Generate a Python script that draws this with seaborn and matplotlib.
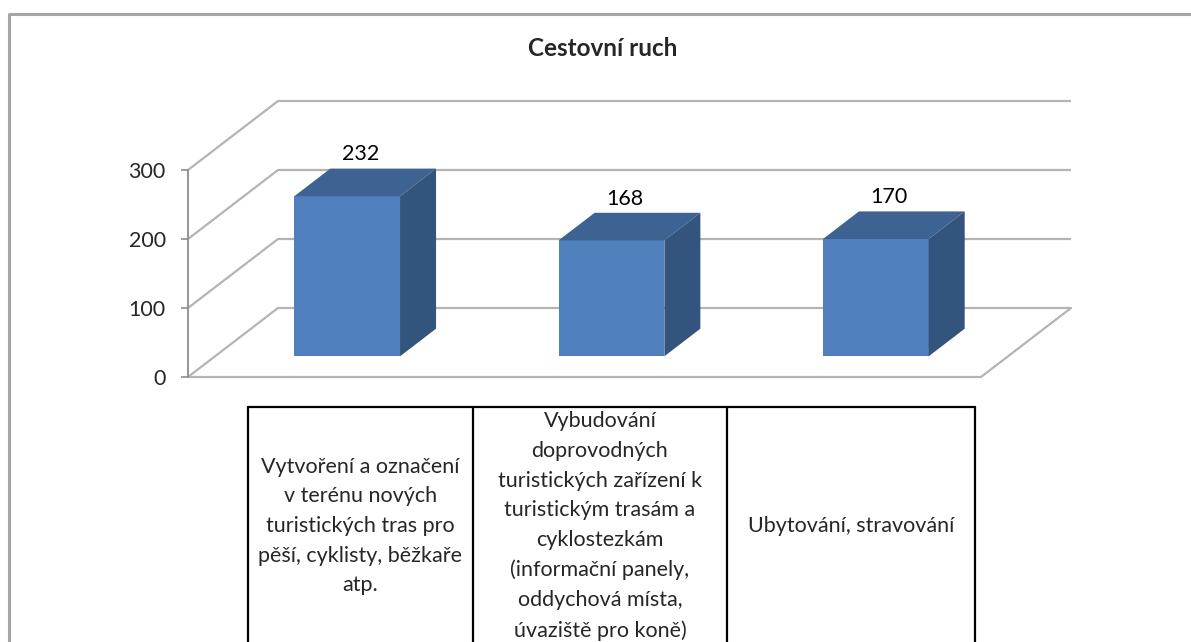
import numpy as np
import pandas as pd
import seaborn as sns
import matplotlib.pyplot as plt
from matplotlib.patches import Polygon

# Data
title = 'Cestovní ruch'
categories = [
    'Vytvoření a označení\nv terénu nových\nturistických tras pro\npěší, cyklisty, běžkaře\natp.',
    'Vybudování\ndoprovodných\nturistických zařízení k\nturistickým trasám a\ncyklostezkám\n(informační panely,\noddychová místa,\núvaziště pro koně)',
    'Ubytování, stravování',
]
values = [232, 168, 170]
y_ticks = [0, 100, 200, 300]

# Style
sns.set_style('white')
plt.rcParams['font.family'] = ['Lato', 'DejaVu Sans']
FONT = 15.5
FRONT = '#4F7FBC'
TOP = '#3D6392'
SIDE = '#32547D'
GRID = '#B4B4B4'

W, H = 1191, 642
fig = plt.figure(figsize=(W / 100, H / 100), dpi=100)

# overlay in pixel coordinates for frame, title and table
ov = fig.add_axes([0, 0, 1, 1])
ov.set_xlim(0, W)
ov.set_ylim(H, 0)
ov.axis('off')

# front plane of the 3d plot
x0, x1, yb, yt = 188, 981, 377, 170
ax = fig.add_axes([x0 / W, 1 - yb / H, (x1 - x0) / W, (yb - yt) / H])
ax.set_xlim(-0.5, 2.5)
ax.set_ylim(0, 300)

# depth of the floor in data units
DX = 90 / ((x1 - x0) / 3)
DY = 69 / ((yb - yt) / 300)
f0, f1 = 0.3, 0.7

df = pd.DataFrame({'cat': categories, 'val': values})
sns.barplot(data=df, x='cat', y='val', ax=ax, color=FRONT, saturation=1,
            width=0.4, linewidth=0, zorder=5)

for p, v in zip(ax.patches, values):
    bx, bw = p.get_x(), p.get_width()
    ox, oy = f0 * DX, f0 * DY
    ddx, ddy = (f1 - f0) * DX, (f1 - f0) * DY
    p.set_xy((bx + ox, oy))
    # top face
    ax.add_patch(Polygon([(bx + ox, v + oy), (bx + bw + ox, v + oy),
                          (bx + bw + ox + ddx, v + oy + ddy), (bx + ox + ddx, v + oy + ddy)],
                         closed=True, fc=TOP, ec='none', zorder=5, clip_on=False))
    # side face
    ax.add_patch(Polygon([(bx + bw + ox, oy), (bx + bw + ox + ddx, oy + ddy),
                          (bx + bw + ox + ddx, v + oy + ddy), (bx + bw + ox, v + oy)],
                         closed=True, fc=SIDE, ec='none', zorder=5, clip_on=False))
    ax.text(bx + bw / 2 + ox + 0.05, v + f1 * DY + 6, str(v), ha='center', va='bottom',
            fontsize=FONT, color='black', zorder=6, clip_on=False)

# walls and floor
for v in y_ticks:
    ax.plot([-0.5, -0.5 + DX, 2.5 + DX], [v, v + DY, v + DY], color=GRID, lw=1.6,
            zorder=1, clip_on=False, solid_capstyle='butt')
ax.plot([-0.5, 2.5, 2.5 + DX], [0, 0, DY], color=GRID, lw=1.6, zorder=1, clip_on=False)

for s in ['top', 'right', 'bottom']:
    ax.spines[s].set_visible(False)
ax.spines['left'].set_color('#8C8C8C')
ax.spines['left'].set_linewidth(1.3)
ax.set_yticks(y_ticks)
ax.set_yticklabels([str(t) for t in y_ticks], fontsize=FONT)
ax.tick_params(axis='y', length=5, width=1.2, color='#8C8C8C', pad=11, left=True)
ax.set_xticks([])
ax.set_xlabel('')
ax.set_ylabel('')
ax.patch.set_alpha(0)

# outer chart frame
ov.plot([9, 9, W], [H, 14, 14], color='#A6A6A6', lw=2.2)

# title
ov.text(603, 48, title, ha='center', va='center', fontsize=17.5, fontweight='bold')

# category table
col_edges = [248, 473, 727, 975]
ov.plot([col_edges[0], col_edges[-1]], [407, 407], color='black', lw=1.6)
for xe in col_edges:
    ov.plot([xe, xe], [407, H], color='black', lw=1.6)
for i, lab in enumerate(categories):
    cx = (col_edges[i] + col_edges[i + 1]) / 2
    ov.text(cx, 526, lab, ha='center', va='center', fontsize=FONT, linespacing=1.6)

fig.savefig('out.png', dpi=100)
